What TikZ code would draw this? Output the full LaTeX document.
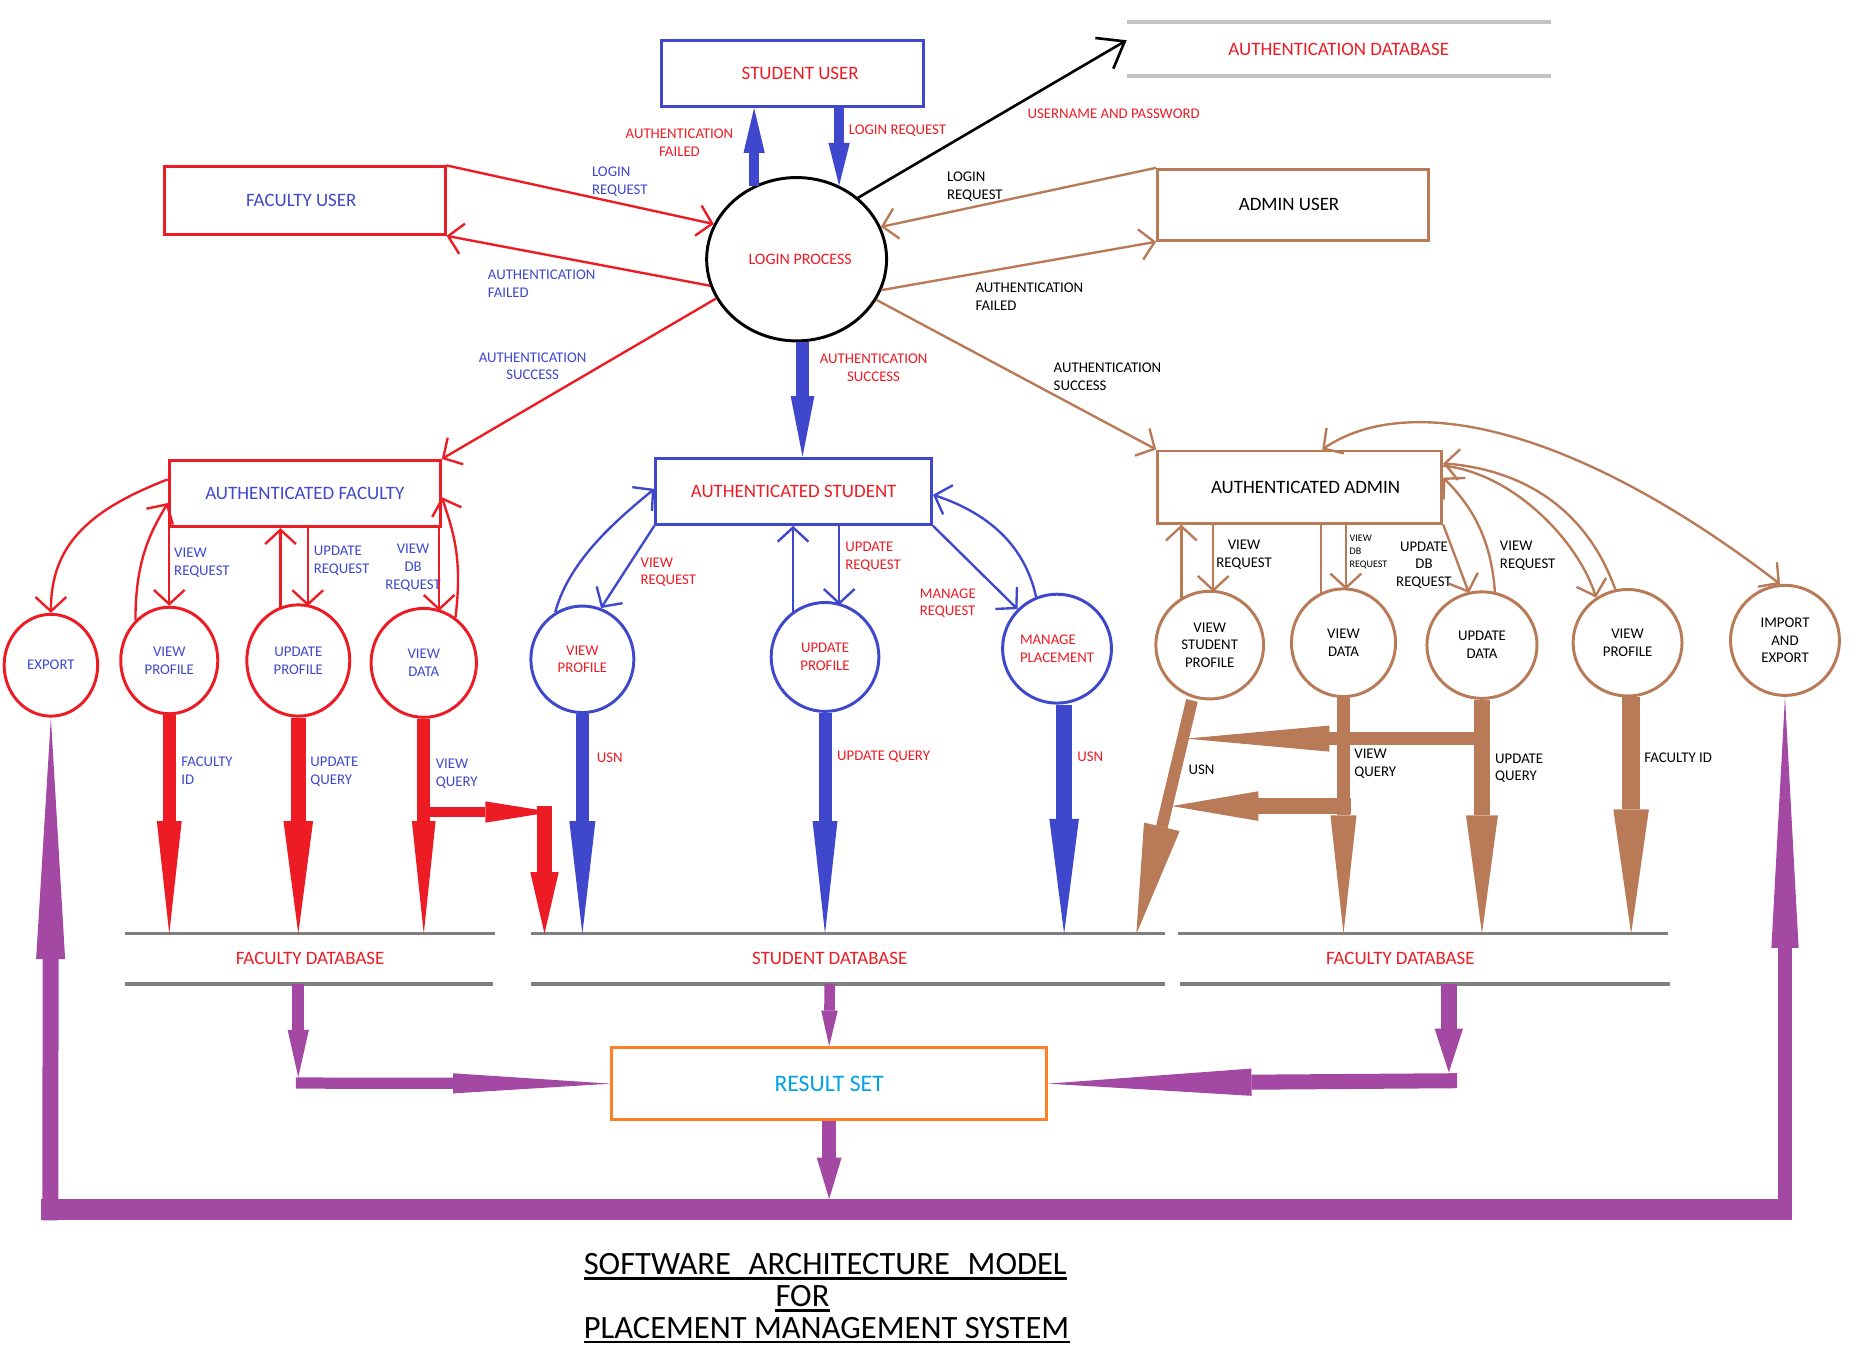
\documentclass[tikz,border=0pt]{standalone}
\usepackage{fontspec}
\setmainfont{Carlito}
\usetikzlibrary{arrows.meta,shapes.geometric}
\definecolor{cred}{HTML}{ED1C24}
\definecolor{cblue}{HTML}{3F48CC}
\definecolor{cbrown}{HTML}{B97A57}
\definecolor{cpurple}{HTML}{A349A4}
\definecolor{corange}{HTML}{FF7F27}
\definecolor{ccyan}{HTML}{00A2E8}
\definecolor{cgray}{HTML}{7F7F7F}
\definecolor{clgray}{HTML}{C3C3C3}
\begin{document}
\begin{tikzpicture}[x=1pt,y=-1pt,
  box/.style={draw, line width=2.5pt, inner sep=0pt, font=\fontsize{16}{19}\selectfont},
  proc/.style={ellipse, draw, line width=2.5pt, inner sep=0pt, align=center, font=\fontsize{12.5}{15}\selectfont},
  lab/.style={inner sep=0pt, font=\fontsize{12.5}{15}\selectfont, align=left, anchor=west},
  labc/.style={inner sep=0pt, font=\fontsize{12.5}{15}\selectfont, align=center},
  barb/.style={-{Straight Barb[length=12pt,width=26pt]}},
  barbs/.style={{Straight Barb[length=12pt,width=26pt]}-{Straight Barb[length=12pt,width=26pt]}},
  thinred/.style={draw=cred, line width=2pt},
  thinblue/.style={draw=cblue, line width=2pt},
  thinbrown/.style={draw=cbrown, line width=2pt},
  fatarr/.style n args={3}{line width=#1, -{Triangle[length=#2,width=#3,line width=0pt]}},
  dbline/.style={draw=cgray, line width=3pt},
  dbtext/.style={inner sep=0pt, minimum height=42pt, text=cred, font=\fontsize{16}{19}\selectfont},
  titl/.style={inner sep=0pt, font=\fontsize{27.5}{33}\selectfont, anchor=base west}
]
\fill[white] (0,0) rectangle (1568,1158);
\useasboundingbox (0,0) rectangle (1568,1158);

% ---------- top nodes ----------
\node[box, draw=cblue, text=cred, minimum width=221pt, minimum height=56pt] (su) at (669.5,62) {\hspace*{13pt}STUDENT USER};
\node[box, draw=cred, text=cblue, minimum width=237pt, minimum height=57pt] (fu) at (257.5,169.5) {\hspace*{-6pt}FACULTY USER};
\node[box, draw=cbrown, text=black, minimum width=229pt, minimum height=60pt] (au) at (1092.5,173) {\hspace*{-7pt}ADMIN USER};
\node[inner sep=0pt, minimum width=358pt, minimum height=45pt, text=cred, font=\fontsize{16}{19}\selectfont] (adb) at (1131,41.5) {AUTHENTICATION DATABASE};
\draw[draw=clgray, line width=3pt] (adb.north west) -- (adb.north east);
\draw[draw=clgray, line width=3pt] (adb.south west) -- (adb.south east);
\node[proc, draw=black, text=cred, minimum width=152pt, minimum height=138pt, font=\fontsize{13.5}{16}\selectfont] (lp) at (673,219) {\hspace*{6pt}LOGIN PROCESS};

% ---------- middle boxes ----------
\node[box, draw=cred, text=cblue, minimum width=229pt, minimum height=56pt] (af) at (257.5,417) {AUTHENTICATED FACULTY};
\node[box, draw=cblue, text=cred, minimum width=233pt, minimum height=56pt] (ast) at (670.5,415) {AUTHENTICATED STUDENT};
\node[box, draw=cbrown, text=black, minimum width=240pt, minimum height=61pt] (aa) at (1098,411.5) {\hspace*{10pt}AUTHENTICATED ADMIN};

% ---------- processes ----------
\node[proc, draw=cred, text=cblue, minimum width=79pt, minimum height=86pt] (fe) at (43,562) {EXPORT};
\node[proc, draw=cred, text=cblue, minimum width=82pt, minimum height=90pt] (fvp) at (143,558) {VIEW\\PROFILE};
\node[proc, draw=cred, text=cblue, minimum width=87pt, minimum height=94pt] (fup) at (252,558) {UPDATE\\PROFILE};
\node[proc, draw=cred, text=cblue, minimum width=89pt, minimum height=92pt] (fvd) at (358,560) {VIEW\\DATA};
\node[proc, draw=cblue, text=cred, minimum width=87pt, minimum height=90pt] (svp) at (492,557) {VIEW\\PROFILE};
\node[proc, draw=cblue, text=cred, minimum width=91pt, minimum height=92pt] (sup) at (697,555) {UPDATE\\PROFILE};
\node[proc, draw=cblue, text=cred, minimum width=92pt, minimum height=92pt, align=left] (smp) at (893,548) {MANAGE\\PLACEMENT};
\node[proc, draw=cbrown, text=black, minimum width=91pt, minimum height=91pt] (avsp) at (1022,545) {VIEW\\STUDENT\\PROFILE};
\node[proc, draw=cbrown, text=black, minimum width=88pt, minimum height=91pt] (avd) at (1135,543) {VIEW\\DATA};
\node[proc, draw=cbrown, text=black, minimum width=93pt, minimum height=90pt] (aud) at (1252,545) {UPDATE\\DATA};
\node[proc, draw=cbrown, text=black, minimum width=92pt, minimum height=90pt] (avp) at (1375,543) {VIEW\\PROFILE};
\node[proc, draw=cbrown, text=black, minimum width=92pt, minimum height=93pt] (aie) at (1508,541) {IMPORT\\AND\\EXPORT};

% ---------- databases ----------
\node[dbtext, minimum width=312pt] (fdb) at (262,810) {FACULTY DATABASE};
\draw[dbline] (fdb.north west) -- (fdb.north east);
\draw[dbline] (fdb.south west) -- ([xshift=-2pt]fdb.south east);
\node[dbtext, minimum width=535pt] (sdb) at (701,810) {STUDENT DATABASE};
\draw[dbline] ([xshift=15.5pt]sdb.north west) -- ([xshift=15.5pt]sdb.north east);
\draw[dbline] ([xshift=15.5pt]sdb.south west) -- ([xshift=15.5pt]sdb.south east);
\node[dbtext, minimum width=414pt] (fdbb) at (1183,810) {FACULTY DATABASE};
\draw[dbline] ([xshift=19pt]fdbb.north west) -- ([xshift=19pt]fdbb.north east);
\draw[dbline] ([xshift=21pt]fdbb.south west) -- ([xshift=21pt]fdbb.south east);

\node[draw=corange, line width=2.5pt, inner sep=0pt, minimum width=367pt, minimum height=61pt, text=ccyan, font=\fontsize{20}{24}\selectfont] (rs) at (700.5,915.5) {RESULT SET};

% ---------- login process connectors ----------
\draw[thinred, barb] (fu.north east) -- (lp.157);
\draw[thinred, barb] (lp.197) -- (fu.south east);
\draw[thinred, barb] (lp.206) -- (af.north east);
\draw[thinbrown, barb] (au.north west) -- (lp.21);
\draw[thinbrown, barb] (lp.340) -- (au.south west);
\draw[thinbrown, barb] (lp.333) -- (aa.north west);
\draw[black, line width=2.2pt, -{Straight Barb[length=20pt,width=30pt]}] (lp.45) -- ([yshift=7.5pt]adb.west);
\draw[cblue, fatarr={9pt}{38pt}{18pt}] (lp.120) -- (lp.120 |- su.south);
\draw[cblue, fatarr={9pt}{36pt}{18pt}] (lp.60 |- su.south) -- (lp.60);
\coordinate (lps) at ([xshift=5pt]lp.south);
\draw[cblue, fatarr={11pt}{51pt}{20pt}] (lps) -- (lps |- ast.north);

% ---------- faculty thin connectors ----------
\draw[thinred, barb] ([yshift=12pt]af.west) .. controls +(-70,27) and +(0,-55) .. (fe.north);
\draw[thinred, barb] (af.south -| fvp.north) -- (fvp.north);
\draw[thinred, barb] (fvp.130) .. controls +(0,-50) and +(-15,25) .. ([yshift=-8pt]af.west);
\coordinate (fupl) at (237,513);
\coordinate (fupr) at (260,512);
\draw[thinred, barb] (fupl) -- (fupl |- af.south);
\draw[thinred, barb] (fupr |- af.south) -- (fupr);
\coordinate (fvdr) at (371,516);
\draw[thinred, barb] (fvdr |- af.south) -- (fvdr);
\draw[thinred, barb] (fvd.55) .. controls +(6,-50) and +(10,30) .. ([yshift=-3pt]af.east);

% ---------- student thin connectors ----------
\draw[thinblue, barb] (svp.120) .. controls +(12,-45) and +(-30,25) .. ([yshift=2pt]ast.west);
\draw[thinblue, barb] (ast.south west) -- (svp.70);
\coordinate (supl) at (670,517);
\coordinate (supr) at (709,511);
\draw[thinblue, barb] (supl) -- (supl |- ast.south);
\draw[thinblue, barb] (supr |- ast.south) -- (supr);
\draw[thinblue, barb] (ast.south east) -- (smp.135);
\draw[thinblue, barb] (smp.112) .. controls +(-10,-45) and +(45,15) .. ([yshift=-3pt]ast.east);

% ---------- admin thin connectors ----------
\coordinate (avspl) at (998,506);
\coordinate (avspr) at (1025,500);
\draw[thinbrown, barb] (avspl) -- (avspl |- aa.south);
\draw[thinbrown, barb] (avspr |- aa.south) -- (avspr);
\coordinate (avdl) at (1116,502);
\coordinate (avdr) at (1137,498);
\draw[thinbrown] (avdl) -- (avdl |- aa.south);
\draw[thinbrown, barb] (avdr |- aa.south) -- (avdr);
\coordinate (audl) at (1241,501);
\coordinate (audr) at (1263,501);
\draw[thinbrown, barb] (aa.south east) -- (audl);
\draw[thinbrown, barb] (audr) .. controls +(-3,-45) and +(25,25) .. ([yshift=8pt]aa.east);
\draw[thinbrown, barb] ([yshift=18pt]aa.east) .. controls +(60,6) and +(-14,-46) .. (avp.125);
\draw[thinbrown, barb] (avp.103) .. controls +(-25,-70) and +(65,5) .. ([yshift=20pt]aa.east);
\draw[thinbrown, barbs] ([xshift=19pt]aa.north) .. controls (1190,330) and (1330,360) .. (aie.95);

% ---------- fat red ----------
\draw[cred, fatarr={11pt}{95pt}{21pt}] (fvp.south) -- (fvp.south |- fdb.north);
\draw[cred, fatarr={13pt}{95pt}{25pt}] (fup.south) -- (fup.south |- fdb.north);
\draw[cred, fatarr={11pt}{95pt}{20pt}] (fvd.south) -- (fvd.south |- fdb.north);
\coordinate (rbs) at (359,686);
\coordinate (rbc) at (466,686);
\coordinate (rbv) at (460,681);
\draw[cred, fatarr={9pt}{56pt}{18pt}] (rbs) -- (rbc);
\draw[cred, fatarr={13pt}{52pt}{24pt}] (rbv) -- (rbv |- sdb.north);

% ---------- fat blue ----------
\draw[cblue, fatarr={11pt}{95pt}{22pt}] (svp.south) -- (svp.south |- sdb.north);
\draw[cblue, fatarr={11pt}{95pt}{21pt}] (sup.south) -- (sup.south |- sdb.north);
\coordinate (smpb) at ([xshift=6pt]smp.south);
\draw[cblue, fatarr={13pt}{97pt}{25pt}] (smpb) -- (smpb |- sdb.north);

% ---------- fat brown ----------
\coordinate (avsps) at ([xshift=-15pt]avsp.south);
\coordinate (usnend) at (960,789);
\draw[cbrown, fatarr={10pt}{93pt}{31pt}] (avsps) -- (usnend);
\draw[cbrown, fatarr={11pt}{100pt}{22pt}] (avd.south) -- (avd.south |- fdbb.north);
\draw[cbrown, fatarr={14pt}{100pt}{27pt}] (aud.south) -- (aud.south |- fdbb.north);
\coordinate (avpb) at ([xshift=3pt]avp.south);
\draw[cbrown, fatarr={15pt}{105pt}{30pt}] (avpb) -- (avpb |- fdbb.north);
\coordinate (bhas) at (1259,624);
\coordinate (bhae) at (1002,624);
\draw[cbrown, fatarr={11pt}{121pt}{22pt}] (bhas) -- (bhae);
\coordinate (bhbs) at (1141,681);
\coordinate (bhbe) at (990,681);
\draw[cbrown, fatarr={13pt}{73pt}{25pt}] (bhbs) -- (bhbe);

% ---------- purple ----------
\coordinate (pla) at ([xshift=-10pt]fdb.south);
\coordinate (plc) at (252,915);
\draw[cpurple, fatarr={10pt}{40pt}{18pt}] (pla) -- ([yshift=5pt]plc);
\draw[cpurple, fatarr={9.5pt}{133pt}{17pt}] ([xshift=-2pt]plc) -- (rs.west);
\draw[cpurple, fatarr={9pt}{30pt}{14pt}] (sdb.south) -- (rs.north);
\coordinate (pra) at ([xshift=41pt]fdbb.south);
\coordinate (prc) at (1224,913);
\draw[cpurple, fatarr={13.5pt}{37pt}{24pt}] (pra) -- ([yshift=7pt]prc);
\draw[cpurple, fatarr={12.7pt}{172pt}{23pt}] ([xshift=7pt]prc) -- (rs.east);
\coordinate (bbl) at (35,1022);
\coordinate (bbr) at (1514,1022);
\coordinate (bbt) at (35,1013);
\draw[cpurple, line width=18pt] (bbl) -- (bbr);
\draw[cpurple, fatarr={11.5pt}{35pt}{21pt}] (rs.south) -- (rs.south |- bbt);
\coordinate (pvl) at (42.5,1031);
\coordinate (pvr) at (1508,1031);
\draw[cpurple, fatarr={13.5pt}{204pt}{24.5pt}] (pvl) -- (fe.south);
\draw[cpurple, fatarr={11.5pt}{212pt}{23pt}] (pvr) -- (aie.south);

% ---------- labels ----------
\node[labc, text=cred] (l1) at (574,120.5) {AUTHENTICATION\\FAILED};
\node[lab, text=cred] (l2) at (717,110) {LOGIN REQUEST};
\node[lab, text=cred] (l3) at (868,96) {USERNAME AND PASSWORD};
\node[lab, text=cblue] (l4) at (500,153.5) {LOGIN\\REQUEST};
\node[lab, text=cblue] (l5) at (412,239.5) {AUTHENTICATION\\FAILED};
\node[labc, text=cblue] (l6) at (450,309.5) {AUTHENTICATION\\SUCCESS};
\node[lab, text=black] (l7) at (800,158) {LOGIN\\REQUEST};
\node[lab, text=black] (l8) at (824,250.5) {AUTHENTICATION\\FAILED};
\node[lab, text=black] (l9) at (890,318.5) {AUTHENTICATION\\SUCCESS};
\node[labc, text=cred] (l10) at (738,310.5) {AUTHENTICATION\\SUCCESS};
\node[lab, text=cblue] (l11) at (147,475.5) {VIEW\\REQUEST};
\node[lab, text=cblue] (l12) at (265,473.5) {UPDATE\\REQUEST};
\node[labc, text=cblue] (l13) at (349,479.5) {VIEW\\DB\\REQUEST};
\node[lab, text=cblue] (l14) at (153,651) {FACULTY\\ID};
\node[lab, text=cblue] (l15) at (262,652) {UPDATE\\QUERY};
\node[lab, text=cblue] (l16) at (368,653.5) {VIEW\\QUERY};
\node[lab, text=cred] (l17) at (541,483.5) {VIEW\\REQUEST};
\node[lab, text=cred] (l18) at (714,470.5) {UPDATE\\REQUEST};
\node[lab, text=cred] (l19) at (777,509.5) {MANAGE\\REQUEST};
\node[lab, text=cred] (l20) at (504,640) {USN};
\node[lab, text=cred] (l21) at (707,639) {UPDATE QUERY};
\node[lab, text=cred] (l22) at (910,639) {USN};
\node[labc, text=black] (l23) at (1051,468.5) {VIEW\\REQUEST};
\node[lab, text=black, font=\fontsize{8.5}{11}\selectfont] (l24) at (1140,466) {VIEW\\DB\\REQUEST};
\node[labc, text=black] (l25) at (1203,477.5) {UPDATE\\DB\\REQUEST};
\node[lab, text=black] (l26) at (1267,469.5) {VIEW\\REQUEST};
\node[lab, text=black] (l27) at (1004,650) {USN};
\node[lab, text=black] (l28) at (1144,645) {VIEW\\QUERY};
\node[lab, text=black] (l29) at (1263,649) {UPDATE\\QUERY};
\node[lab, text=black] (l30) at (1389,640) {FACULTY ID};

% ---------- title ----------
\node[titl] (t1) at (493,1077) {\makebox[408pt][s]{SOFTWARE ARCHITECTURE MODEL}};
\node[titl] (t2) at (655,1104) {FOR};
\node[titl] (t3) at (493,1131) {PLACEMENT MANAGEMENT SYSTEM};
\draw[line width=2pt] ([yshift=-3pt]t1.base west) -- ([yshift=-3pt]t1.base east);
\draw[line width=2pt] ([yshift=-3pt]t2.base west) -- ([yshift=-3pt]t2.base east);
\draw[line width=2pt] ([yshift=-3pt]t3.base west) -- ([yshift=-3pt]t3.base east);
\end{tikzpicture}
\end{document}
